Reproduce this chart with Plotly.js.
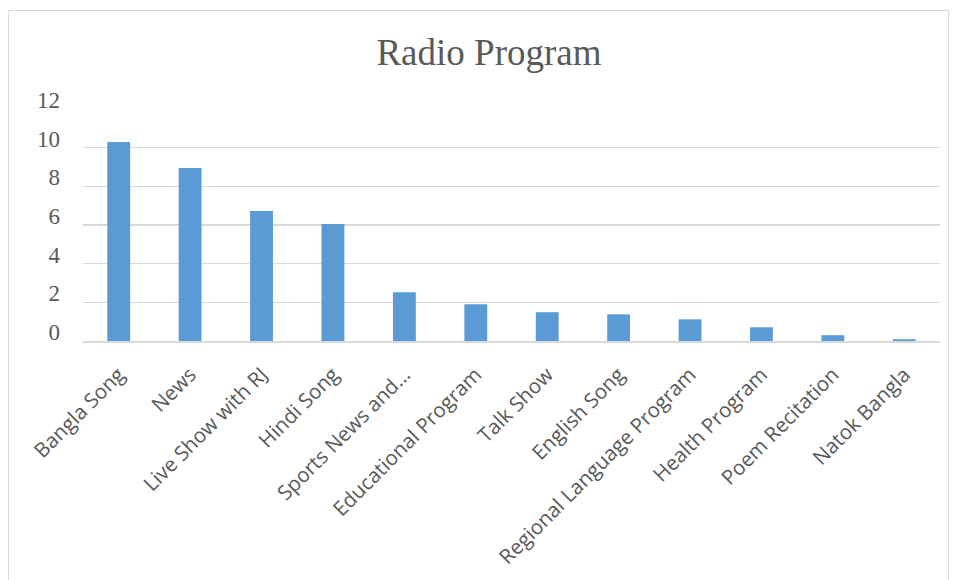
<!DOCTYPE html>
<html>
<head>
<meta charset="utf-8">
<script src="https://cdn.plot.ly/plotly-3.0.1.min.js"></script>
<style>
  html, body { margin: 0; padding: 0; background: #fff; }
  #wrap { position: relative; width: 958px; height: 580px; overflow: hidden; }
  #chart { width: 958px; height: 580px; }
  #frame { position: absolute; left: 8px; top: 10px; width: 941px; height: 580px;
           border: 1.5px solid #d9d9d9; box-sizing: border-box; pointer-events: none; }
</style>
</head>
<body>
<div id="wrap">
  <div id="chart"></div>
  <div id="frame"></div>
</div>
<script>
const categories = ["Bangla Song", "News", "Live Show with RJ", "Hindi Song", "Sports News and...",
  "Educational Program", "Talk Show", "English Song", "Regional Language Program",
  "Health Program", "Poem Recitation", "Natok Bangla"];
const values = [10.29, 8.95, 6.72, 6.05, 2.52, 1.90, 1.49, 1.38, 1.12, 0.71, 0.30, 0.09];
const yTicks = [0, 2, 4, 6, 8, 10, 12];

const trace = {
  type: "bar",
  x: categories,
  y: values,
  marker: { color: "#5b9bd5" },
  hoverinfo: "x+y"
};

const layout = {
  width: 958, height: 580,
  paper_bgcolor: "#ffffff", plot_bgcolor: "#ffffff",
  margin: { l: 83, r: 18, t: 109, b: 239 },
  bargap: 0.68,
  showlegend: false,
  title: {
    text: "Radio Program",
    font: { family: "Liberation Serif, Times New Roman, serif", size: 37, color: "#595959" },
    x: 0.5104, xanchor: "center", y: 0.91, yanchor: "middle"
  },
  xaxis: {
    type: "category",
    tickangle: -45,
    tickfont: { family: "Open Sans, sans-serif", size: 20.5, color: "#595959" },
    showgrid: false,
    showline: true, linecolor: "#d9d9d9", linewidth: 1.5,
    ticks: "", zeroline: false,
    ticklabelstandoff: 12
  },
  yaxis: {
    range: [0, 12],
    tickvals: yTicks,
    ticktext: yTicks.map(String),
    tickfont: { family: "Liberation Serif, Times New Roman, serif", size: 23, color: "#595959" },
    showgrid: true, gridcolor: "#d9d9d9", gridwidth: 1.5,
    zeroline: false, showline: false, ticks: "",
    ticklabelshift: -9,
    ticklabelstandoff: 22
  }
};

Plotly.newPlot("chart", [trace], layout, { displayModeBar: false, staticPlot: true });
</script>
</body>
</html>
